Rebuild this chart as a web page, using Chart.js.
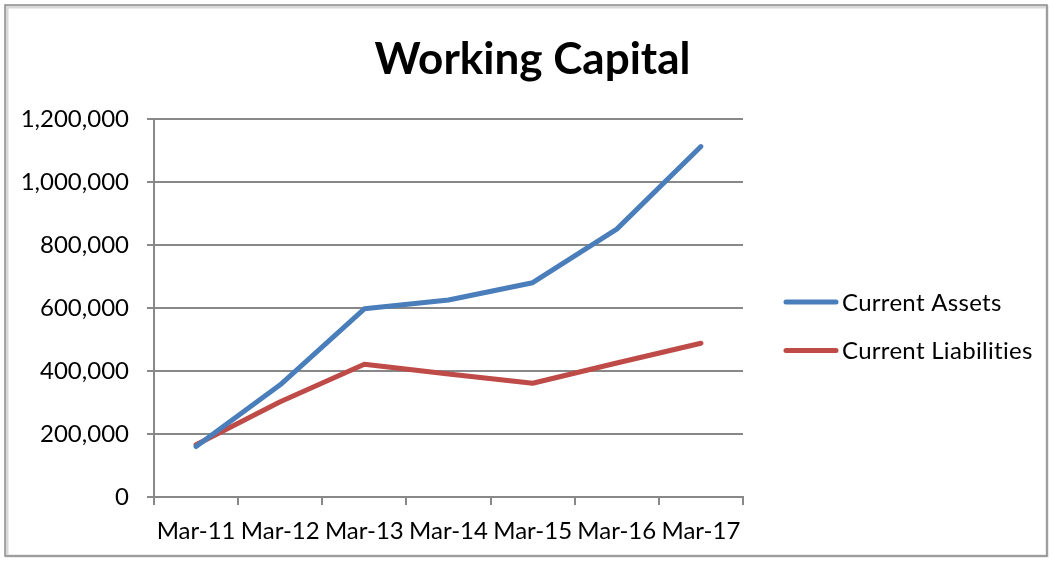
<!DOCTYPE html>
<html lang="en">
<head>
<meta charset="UTF-8">
<title>Working Capital</title>
<style>
    body {
        margin: 0;
        background: #fff;
    }
    #wrap {
        width: 1053px;
        height: 562px;
    }
</style>
</head>
<body>
<div id="wrap"><canvas id="chart"></canvas></div>
<script src="https://cdn.jsdelivr.net/npm/chart.js"></script>
<script>
    const periods = ['Mar-11', 'Mar-12', 'Mar-13', 'Mar-14', 'Mar-15', 'Mar-16', 'Mar-17'];
    const currentAssets = [160000, 356000, 597000, 625000, 680000, 850000, 1112000];
    const currentLiabilities = [166000, 302000, 421000, 390000, 361000, 425000, 488000];
    const yTicks = [0, 200000, 400000, 600000, 800000, 1000000, 1200000];

    const FONT = 'Lato, "Open Sans", sans-serif';
    const GRID = '#888888';

    // white card with grey frame, like the office chart border
    const framePlugin = {
        id: 'frame',
        beforeDraw(chart) {
            const c = chart.ctx;
            c.save();
            c.fillStyle = '#fff';
            c.fillRect(0, 0, chart.width, chart.height);
            c.strokeStyle = '#d8d8d8';
            c.lineWidth = 3;
            c.strokeRect(7, 7, chart.width - 13, chart.height - 13);
            c.strokeStyle = '#8a8a8a';
            c.lineWidth = 1.5;
            c.strokeRect(5, 5, chart.width - 11, chart.height - 11);
            c.restore();
        }
    };

    // legend drawn on the right, one line sample per dataset
    const sideLegend = {
        id: 'sideLegend',
        afterDraw(chart) {
            const c = chart.ctx;
            c.save();
            c.font = '24px ' + FONT;
            c.letterSpacing = '0.3px'; // also stops the Lato "ti" ligature
            c.textBaseline = 'middle';
            c.fillStyle = '#000';
            chart.data.datasets.forEach((ds, i) => {
                const y = 302 + i * 48.5;
                c.strokeStyle = ds.borderColor;
                c.lineWidth = 5;
                c.lineCap = 'round';
                c.beginPath();
                c.moveTo(786, y);
                c.lineTo(836, y);
                c.stroke();
                c.fillText(ds.label, 842, y + 1);
            });
            c.restore();
        }
    };

    new Chart(document.getElementById('chart'), {
        type: 'line',
        data: {
            labels: periods,
            datasets: [{
                label: 'Current Assets',
                data: currentAssets,
                borderColor: '#4a7ebb',
                backgroundColor: '#4a7ebb',
                borderWidth: 5,
                borderCapStyle: 'round',
                borderJoinStyle: 'round',
                pointRadius: 0,
                tension: 0
            }, {
                label: 'Current Liabilities',
                data: currentLiabilities,
                borderColor: '#be4b48',
                backgroundColor: '#be4b48',
                borderWidth: 5,
                borderCapStyle: 'round',
                borderJoinStyle: 'round',
                pointRadius: 0,
                tension: 0
            }]
        },
        options: {
            responsive: true,
            maintainAspectRatio: false,
            animation: false,
            layout: {
                padding: { left: 12, top: 0, right: 0, bottom: 0 }
            },
            plugins: {
                legend: { display: false },
                tooltip: { enabled: false },
                title: {
                    display: true,
                    text: 'Working Capital',
                    color: '#000',
                    font: { family: FONT, size: 44, weight: 'bold' },
                    padding: { top: 33, bottom: 33 }
                }
            },
            scales: {
                x: {
                    offset: true,
                    grid: {
                        offset: true,
                        drawOnChartArea: false,
                        drawTicks: true,
                        tickLength: 8,
                        color: GRID,
                        lineWidth: 2
                    },
                    border: { display: true, color: GRID, width: 2 },
                    ticks: {
                        color: '#000',
                        font: { family: FONT, size: 24 },
                        padding: 12,
                        maxRotation: 0,
                        autoSkip: false
                    },
                    afterFit(s) { s.height = 65; }
                },
                y: {
                    min: 0,
                    max: 1200000,
                    afterBuildTicks(s) { s.ticks = yTicks.map(v => ({ value: v })); },
                    grid: {
                        color: GRID,
                        lineWidth: 2,
                        tickLength: 7
                    },
                    border: { display: true, color: GRID, width: 2 },
                    ticks: {
                        color: '#000',
                        font: { family: FONT, size: 24 },
                        padding: 18,
                        callback: v => v.toLocaleString('en-US')
                    },
                    afterFit(s) { s.width = 142; }
                },
                // empty right-hand box that keeps room for the legend
                legendRoom: {
                    type: 'linear',
                    position: 'right',
                    grid: { display: false },
                    border: { display: false },
                    ticks: { display: false },
                    afterFit(s) { s.width = 310; }
                }
            }
        },
        plugins: [framePlugin, sideLegend]
    });
</script>
</body>
</html>
